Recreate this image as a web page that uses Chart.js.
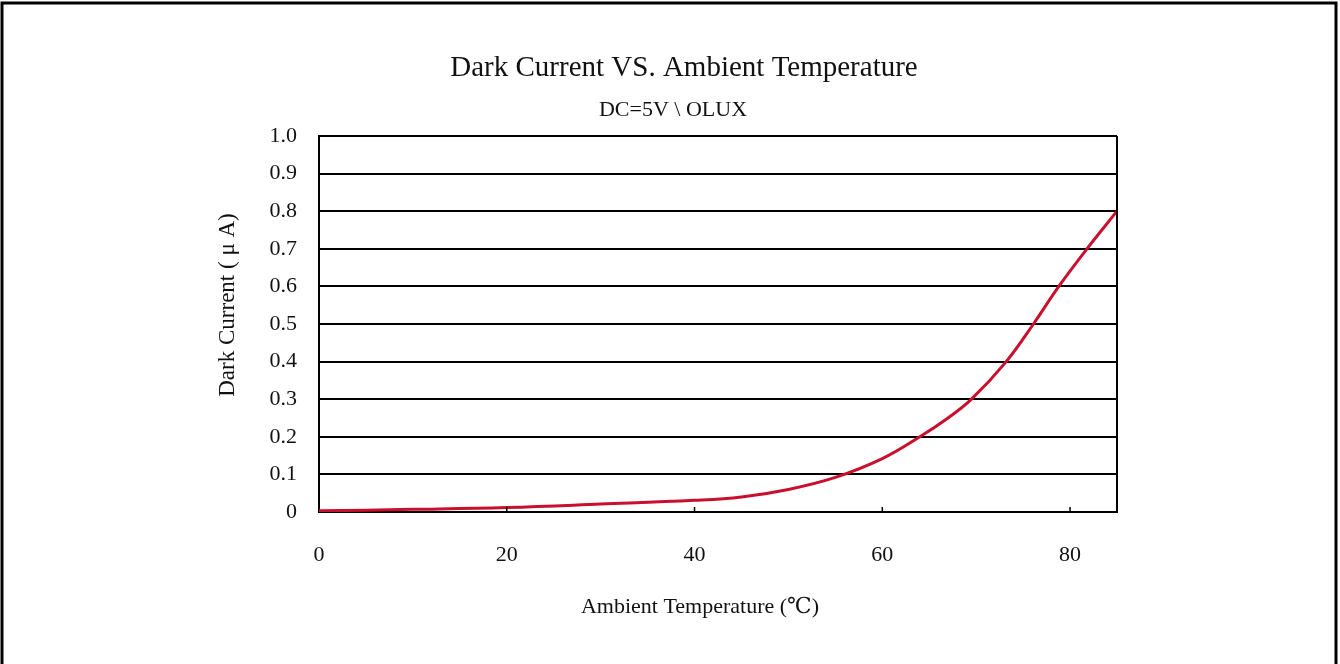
<!DOCTYPE html>
<html>
<head>
<meta charset="utf-8">
<script src="https://cdn.jsdelivr.net/npm/chart.js@4.4.1/dist/chart.umd.min.js"></script>
<style>
  html, body { margin: 0; padding: 0; background: #fff; }
  #wrap { width: 1340px; height: 664px; }
</style>
</head>
<body>
<div id="wrap"><canvas id="dark"></canvas></div>
<script>
// temperature (°C) and dark current (uA)
const temps   = [0,     10,    20,    30,    40,    45,   50,   55,    60,    64,  67,   69.5, 73.2, 76.1, 78.8, 81.8, 85]
const current = [0.003, 0.007, 0.012, 0.021, 0.031, 0.04, 0.06, 0.092, 0.142, 0.2, 0.25, 0.3,  0.4,  0.5,  0.6,  0.7,  0.8]
const xTicks = [0, 20, 40, 60, 80]
const yTicks = [0, 0.1, 0.2, 0.3, 0.4, 0.5, 0.6, 0.7, 0.8, 0.9, 1.0]

const serif = '"Liberation Serif", "DejaVu Serif", serif'

const frame = {
    id: 'frame',
    beforeDraw(chart) {
        const c = chart.ctx
        c.save()
        c.fillStyle = '#fff'
        c.fillRect(0, 0, chart.width, chart.height)
        // outer border
        c.strokeStyle = '#000'
        c.lineWidth = 3
        c.beginPath()
        c.moveTo(2, chart.height)
        c.lineTo(2, 3)
        c.lineTo(1336, 3)
        c.lineTo(1336, chart.height)
        c.stroke()
        // titles
        c.fillStyle = '#111'
        c.textAlign = 'center'
        c.textBaseline = 'middle'
        c.font = '29px ' + serif
        c.fillText('Dark Current VS. Ambient Temperature', 684, 68)
        c.font = '22px ' + serif
        c.fillText('DC=5V \\ OLUX', 673, 110)
        c.font = '22px ' + serif
        c.fillText('Ambient Temperature (℃)', 700, 607)
        c.translate(228, 305)
        c.rotate(-Math.PI / 2)
        c.font = '23px ' + serif
        c.fillText('Dark Current ( μ A)', 0, 0)
        c.restore()
    },
    afterDatasetsDraw(chart) {
        const { ctx, chartArea: a, scales } = chart
        ctx.save()
        ctx.strokeStyle = '#000'
        ctx.lineWidth = 2
        ctx.beginPath()
        ctx.moveTo(a.right, a.top)
        ctx.lineTo(a.right, a.bottom)
        ctx.stroke()
        // little inward ticks on the x axis
        ctx.lineWidth = 1.5
        xTicks.slice(1).forEach(t => {
            const px = scales.x.getPixelForValue(t)
            ctx.beginPath()
            ctx.moveTo(px, a.bottom)
            ctx.lineTo(px, a.bottom - 5)
            ctx.stroke()
        })
        ctx.restore()
    }
}

new Chart(document.getElementById('dark'), {
    type: 'line',
    data: {
        datasets: [{
            data: temps.map((t, i) => ({ x: t, y: current[i] })),
            borderColor: '#c8102e',
            borderWidth: 3,
            pointRadius: 0,
            tension: 0.4,
            fill: false
        }]
    },
    options: {
        responsive: true,
        maintainAspectRatio: false,
        animation: false,
        layout: { padding: { left: 200, right: 223, top: 136, bottom: 44 } },
        plugins: {
            legend: { display: false },
            tooltip: { enabled: false }
        },
        scales: {
            x: {
                type: 'linear',
                min: 0,
                max: 85,
                afterBuildTicks: s => { s.ticks = xTicks.map(v => ({ value: v })) },
                afterFit: s => { s.height = 108 },
                grid: { display: false, drawTicks: false },
                border: { display: true, color: '#000', width: 2 },
                ticks: { padding: 30, color: '#111', font: { family: serif, size: 22 } }
            },
            y: {
                min: 0,
                max: 1,
                afterBuildTicks: s => { s.ticks = yTicks.map(v => ({ value: v })) },
                afterFit: s => { s.width = 119 },
                grid: { color: '#000', lineWidth: 2, drawTicks: false },
                border: { display: true, color: '#000', width: 2 },
                ticks: {
                    padding: 22,
                    color: '#111',
                    font: { family: serif, size: 22 },
                    callback: v => v === 0 ? '0' : v.toFixed(1)
                }
            }
        }
    },
    plugins: [frame]
})
</script>
</body>
</html>
